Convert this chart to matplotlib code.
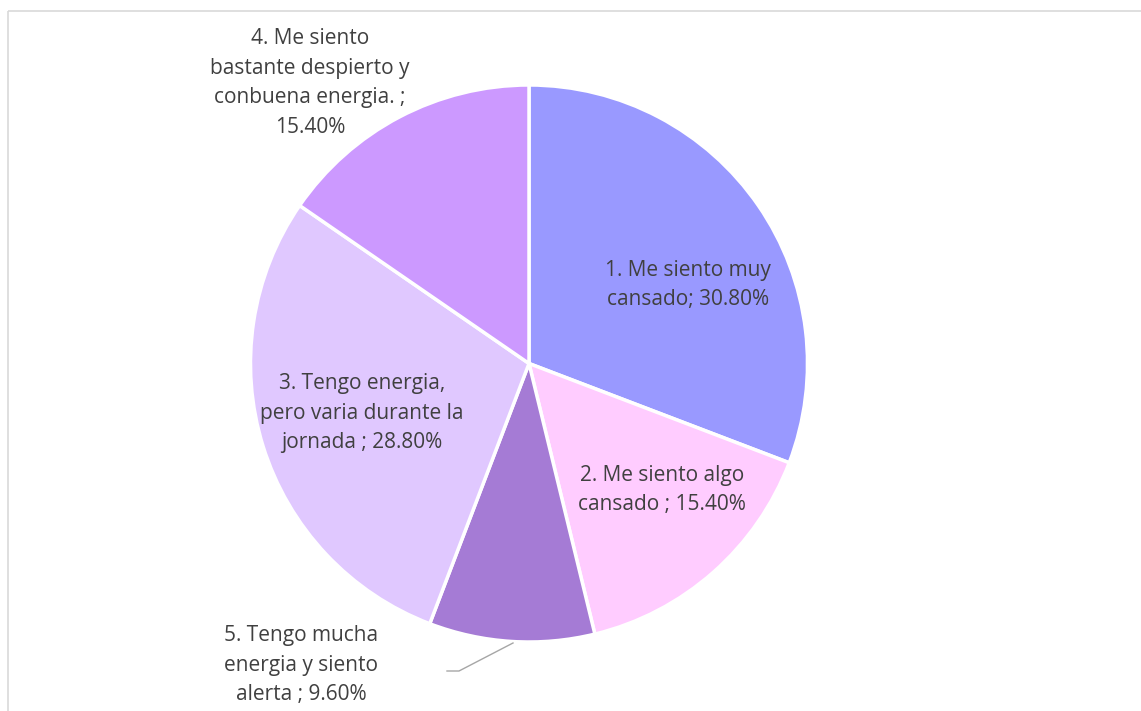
import matplotlib
matplotlib.use("Agg")
import matplotlib.pyplot as plt
from matplotlib.patches import Rectangle

# Survey responses, clockwise from 12 o'clock
labels = [
    "1. Me siento muy\ncansado; 30.80%",
    "2. Me siento algo\ncansado ; 15.40%",
    "5. Tengo mucha\nenergia y siento\nalerta ; 9.60%",
    "3. Tengo energia,\npero varia durante la\njornada ; 28.80%",
    "4. Me siento\nbastante despierto y\nconbuena energia. ;\n15.40%",
]
values = [30.8, 15.4, 9.6, 28.8, 15.4]
colors = ["#9999FF", "#FFCCFF", "#A57BD5", "#E0C8FF", "#CC99FF"]

# label anchor positions (pixel space, y downward)
label_pos = [(688, 285), (662, 490), (301, 665), (362, 413), (310, 83)]

W, H = 1141, 711
fig = plt.figure(figsize=(W / 100, H / 100), dpi=100)
ax = fig.add_axes([0, 0, 1, 1])
ax.set_xlim(0, W)
ax.set_ylim(H, 0)
ax.set_aspect("equal")
ax.axis("off")

# chart area frame
ax.add_patch(Rectangle((7.5, 10.5), W + 20, H + 20, fill=False,
                       edgecolor="#D9D9D9", linewidth=1.2))

cx, cy, r = 529, 363.5, 278.5
# y axis is inverted, so counterclock=True renders clockwise on screen
ax.pie(values, colors=colors, startangle=-90, counterclock=True,
       center=(cx, cy), radius=r,
       wedgeprops=dict(edgecolor="white", linewidth=2.5))
ax.set_xlim(0, W)
ax.set_ylim(H, 0)

for txt, (x, y) in zip(labels, label_pos):
    ax.text(x, y, txt, ha="center", va="center", fontsize=15,
            color="#404040", family="Open Sans", linespacing=1.56)

# leader line for the smallest slice
ax.plot([513, 459, 447], [643, 671, 671], color="#A6A6A6", linewidth=1)

fig.savefig("out.png", dpi=100)
